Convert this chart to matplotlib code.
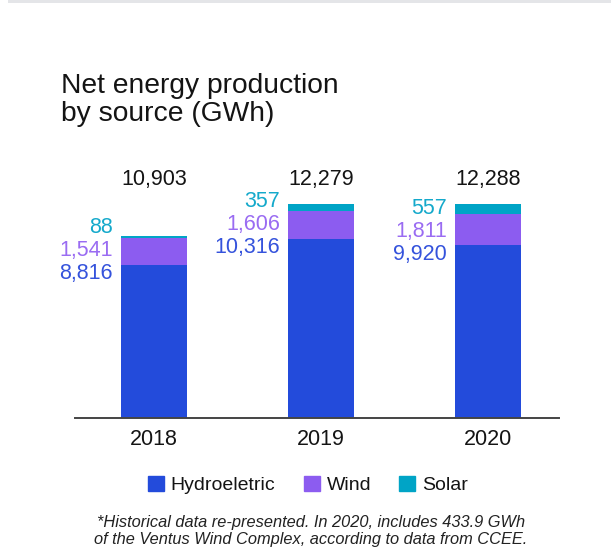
import matplotlib.pyplot as plt
from matplotlib.patches import Patch, Rectangle

plt.rcParams["font.family"] = ["Liberation Sans", "DejaVu Sans"]

years = ["2018", "2019", "2020"]
hydro = [8816, 10316, 9920]
wind = [1541, 1606, 1811]
solar = [88, 357, 557]
totals = [10903, 12279, 12288]

c_hydro = "#234bdb"
c_wind = "#8c5cf0"
c_solar = "#00a4c6"
lbl_hydro = "#3553dc"
lbl_wind = "#9a6cf2"
lbl_solar = "#14a9cb"
ink = "#141414"

fig = plt.figure(figsize=(6.11, 5.52), dpi=100)
ax = fig.add_axes([75 / 611, 134 / 552, 484 / 611, 243.6 / 552])

x = list(range(len(years)))
w = 0.395
bottom_wind = hydro
bottom_solar = [h + wd for h, wd in zip(hydro, wind)]
ax.bar(x, hydro, w, color=c_hydro)
ax.bar(x, wind, w, bottom=bottom_wind, color=c_wind)
ax.bar(x, solar, w, bottom=bottom_solar, color=c_solar)

ax.set_xlim(-0.473, 2.425)
ax.set_ylim(0, 14000)

# segment values stacked to the left of each bar
for i in x:
    anchor = (i - w / 2, hydro[i])
    for val, col, dy in [(hydro[i], lbl_hydro, -9),
                         (wind[i], lbl_wind, 14),
                         (solar[i], lbl_solar, 37)]:
        ax.annotate(f"{val:,}", anchor, xytext=(-8, dy), textcoords="offset pixels",
                    ha="right", va="center", fontsize=15.5, color=col)
    ax.text(i, 13680, f"{totals[i]:,}", ha="center", va="center",
            fontsize=15.5, color=ink)

for s in ["top", "right", "left"]:
    ax.spines[s].set_visible(False)
ax.spines["bottom"].set_color("#444444")
ax.spines["bottom"].set_linewidth(1.4)
ax.set_yticks([])
ax.set_xticks(x)
ax.set_xticklabels(years, fontsize=15.5, color=ink)
ax.tick_params(axis="x", length=0, pad=8)

fig.patches.append(Rectangle((8 / 611, 549 / 552), 603 / 611, 3 / 552,
                             transform=fig.transFigure, color="#e4e5e8", lw=0))

fig.text(61 / 611, 1 - 73 / 552, "Net energy production\nby source (GWh)",
         ha="left", va="top", fontsize=20.3, color=ink, linespacing=1.12)

handles = [Patch(color=c_hydro), Patch(color=c_wind), Patch(color=c_solar)]
fig.legend(handles, ["Hydroeletric", "Wind", "Solar"], loc="center",
           bbox_to_anchor=(308 / 611, 1 - 485 / 552), ncol=3, frameon=False,
           fontsize=14, handlelength=0.82, handleheight=0.82,
           handletextpad=0.35, columnspacing=1.45, labelcolor=ink)

fig.text(311 / 611, 1 - 531 / 552,
         "*Historical data re-presented. In 2020, includes 433.9 GWh\n"
         "of the Ventus Wind Complex, according to data from CCEE.",
         ha="center", va="center", fontsize=11.8, style="italic",
         color="#222222", linespacing=1.2)

fig.savefig("out.png", dpi=100)
